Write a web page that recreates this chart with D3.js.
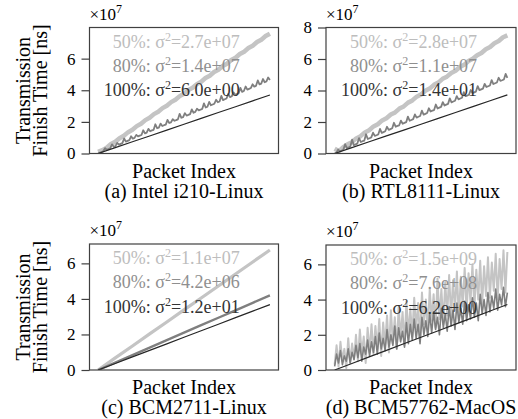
<!DOCTYPE html>
<html>
<head>
<meta charset="utf-8">
<script src="https://cdn.jsdelivr.net/npm/d3@7"></script>
<style>
  body { margin: 0; background: #fff; }
</style>
</head>
<body>
<script>
// Values (y in units of 1e7 ns)
const panelTitles = ["(a) Intel i210-Linux", "(b) RTL8111-Linux", "(c) BCM2711-Linux", "(d) BCM57762-MacOS"];
const levels = ["50%", "80%", "100%"];
const sigmaLabels = [
    ["2.7e+07", "1.4e+07", "6.0e+00"],
    ["2.8e+07", "1.1e+07", "1.4e+01"],
    ["1.1e+07", "4.2e+06", "1.2e+01"],
    ["1.5e+09", "7.6e+08", "6.2e+00"]
];
const yTicks = [[0, 2, 4, 6], [0, 2, 4, 6, 8], [0, 2, 4, 6], [0, 2, 4, 6]];
const yTops = [7.97, 8.0, 7.09, 7.1];
const PACKETS = 1000;

const a50 = [0.10, 0.21, 0.36, 0.60, 0.74, 0.97, 1.12, 1.35, 1.50, 1.73, 1.88, 2.11, 2.26, 2.49, 2.64, 2.87, 3.02, 3.25, 3.40, 3.63,
    3.78, 4.01, 4.16, 4.39, 4.54, 4.77, 4.92, 5.15, 5.30, 5.53, 5.68, 5.91, 6.06, 6.29, 6.44, 6.67, 6.82, 7.05, 7.20, 7.43, 7.58];
const a80 = [0.00, 0.05, 0.09, 0.14, 0.34, 0.23, 0.28, 0.33, 0.58, 0.42, 0.47, 0.67, 0.56, 0.61, 0.66, 0.95, 0.75, 0.80, 0.85, 1.09,
    0.94, 0.99, 1.18, 1.08, 1.13, 1.17, 1.47, 1.27, 1.32, 1.56, 1.41, 1.46, 1.50, 1.85, 1.60, 1.64, 1.89, 1.74, 1.79, 1.83,
    2.13, 1.93, 1.97, 2.17, 2.07, 2.11, 2.16, 2.51, 2.26, 2.30, 2.55, 2.40, 2.44, 2.49, 2.79, 2.58, 2.63, 2.83, 2.73, 2.77,
    2.82, 3.17, 2.91, 2.96, 3.26, 3.05, 3.10, 3.15, 3.40, 3.24, 3.29, 3.64, 3.38, 3.43, 3.48, 3.77, 3.57, 3.62, 3.87, 3.71,
    3.76, 3.81, 4.15, 3.90, 3.95, 4.24, 4.04, 4.09, 4.14, 4.38, 4.23, 4.28, 4.62, 4.37, 4.42, 4.71, 4.51, 4.56, 4.81, 4.65];
const a100 = [0, 0.37, 0.74, 1.11, 1.48, 1.85, 2.22, 2.59, 2.96, 3.33, 3.70];

const b50 = [0.30, 0.15, 0.40, 0.58, 0.72, 0.96, 1.10, 1.34, 1.48, 1.72, 1.86, 2.10, 2.24, 2.47, 2.61, 2.85, 2.99, 3.23, 3.37, 3.61,
    3.75, 3.98, 4.12, 4.36, 4.50, 4.74, 4.88, 5.11, 5.25, 5.49, 5.63, 5.87, 6.01, 6.24, 6.38, 6.62, 6.76, 7.00, 7.14, 7.38, 7.50];
const b80 = [0.00, 0.05, 0.25, 0.15, 0.19, 0.24, 0.59, 0.34, 0.39, 0.44, 0.88, 0.53, 0.58, 0.63, 0.98, 0.73, 0.78, 0.82, 1.22, 0.92,
    0.97, 1.02, 1.32, 1.12, 1.16, 1.21, 1.56, 1.31, 1.36, 1.41, 1.70, 1.50, 1.55, 1.60, 1.95, 1.70, 1.75, 1.79, 2.09, 1.89,
    1.94, 1.99, 2.34, 2.08, 2.13, 2.18, 2.48, 2.28, 2.33, 2.38, 2.72, 2.47, 2.52, 2.57, 2.87, 2.67, 2.72, 2.76, 3.11, 2.86,
    2.91, 2.96, 3.26, 3.05, 3.10, 3.15, 3.50, 3.25, 3.30, 3.35, 3.64, 3.44, 3.49, 3.54, 3.89, 3.64, 3.68, 3.73, 4.03, 3.83,
    3.88, 3.93, 4.28, 4.02, 4.07, 4.12, 4.42, 4.22, 4.27, 4.32, 4.66, 4.41, 4.46, 4.51, 4.81, 4.61, 4.65, 4.70, 5.05, 4.80];
const b100 = [0, 0.372, 0.744, 1.116, 1.488, 1.86, 2.232, 2.604, 2.976, 3.348, 3.72];

const c50 = [0, 0.68, 1.35, 2.03, 2.70, 3.38, 4.05, 4.73, 5.40, 6.08, 6.75];
const c80 = [0, 0.42, 0.84, 1.26, 1.68, 2.10, 2.52, 2.94, 3.36, 3.78, 4.20];
const c100 = [0, 0.368, 0.736, 1.104, 1.472, 1.84, 2.208, 2.576, 2.944, 3.312, 3.68];

const d50 = [0.3, 1.4, 0.2, 1.6, 0.5, 1.2, 0.1, 1.8, 0.4, 1.5,
    0.6, 2.0, 0.5, 2.3, 0.9, 1.9, 0.4, 2.4, 1.0, 2.6,
    0.9, 2.5, 1.2, 2.9, 0.8, 2.7, 1.4, 3.1, 1.0, 3.4,
    1.5, 3.0, 1.2, 3.6, 1.8, 3.3, 1.4, 3.9, 2.0, 3.5,
    1.9, 4.1, 2.3, 3.8, 1.7, 4.4, 2.6, 4.0, 2.2, 4.6,
    2.8, 4.3, 2.4, 5.2, 2.9, 4.6, 2.6, 5.0, 3.1, 5.4,
    3.0, 5.1, 3.4, 5.6, 2.9, 5.3, 3.6, 5.8, 3.3, 5.5,
    3.8, 6.0, 3.5, 5.7, 4.0, 6.2, 3.7, 5.9, 4.2, 6.4,
    4.1, 6.1, 4.5, 6.6, 4.0, 6.3, 4.6, 6.8, 4.4, 6.7];
const d80 = [0.2, 0.9, 0.4, 1.1, 0.3, 0.8, 0.5, 1.2, 0.4, 1.0,
    0.6, 1.4, 0.7, 1.5, 0.5, 1.3, 0.9, 1.7, 0.8, 1.6,
    1.0, 1.9, 0.9, 2.1, 1.2, 1.8, 1.1, 2.3, 1.3, 2.0,
    1.4, 2.5, 1.2, 2.4, 1.6, 2.2, 1.3, 2.7, 1.5, 2.6,
    1.7, 2.9, 1.8, 2.6, 1.5, 3.0, 2.0, 2.8, 1.9, 3.2,
    2.1, 3.3, 2.3, 3.0, 2.0, 3.5, 2.4, 3.2, 2.2, 3.6,
    2.5, 3.4, 2.3, 3.8, 2.7, 3.5, 2.6, 3.9, 2.8, 3.7,
    2.9, 4.1, 3.0, 3.8, 2.8, 4.3, 3.2, 4.0, 3.1, 4.4,
    3.3, 4.2, 3.5, 4.6, 3.4, 4.3, 3.7, 4.7, 3.6, 4.4];
const d100 = [0, 0.372, 0.744, 1.116, 1.488, 1.86, 2.232, 2.604, 2.976, 3.348, 3.72];

const seriesByPanel = [[a50, a80, a100], [b50, b80, b100], [c50, c80, c100], [d50, d80, d100]];

// layout: plot boxes [left, top, right, bottom] in pixels
const boxes = [[89.5, 27.5, 278.5, 153.5], [326, 27.5, 516, 153.5], [89.5, 244, 278.5, 370], [326, 245, 516, 370]];
const lineColors = ["#c4c4c4", "#7f7f7f", "#262626"];
const lineWidths = [[4.5, 1.8, 1.2], [4.5, 1.8, 1.2], [3.2, 2.4, 1.2], [2, 1.6, 1.2]];
const textColors = ["#bdbdbd", "#8f8f8f", "#333333"];
const serif = "'Liberation Serif', 'Times New Roman', serif";

const svg = d3.select("body").append("svg")
    .attr("width", 518)
    .attr("height", 419)
    .attr("font-family", serif);

boxes.forEach((b, p) => {
    const w = b[2] - b[0], h = b[3] - b[1];
    const g = svg.append("g").attr("transform", `translate(${b[0]},${b[1]})`);

    const x = d3.scaleLinear().domain([-0.05 * PACKETS, 1.05 * PACKETS]).range([0, w]);
    const y = d3.scaleLinear().domain([0, yTops[p]]).range([h, 0]);

    g.append("clipPath").attr("id", "clip" + p)
        .append("rect").attr("width", w).attr("height", h);

    // series, drawn 50% then 80% then 100%
    seriesByPanel[p].forEach((vals, k) => {
        const n = vals.length;
        const line = d3.line()
            .x((d, i) => x(i * PACKETS / (n - 1)))
            .y(d => y(d));
        g.append("path")
            .datum(vals)
            .attr("clip-path", `url(#clip${p})`)
            .attr("fill", "none")
            .attr("stroke", lineColors[k])
            .attr("stroke-width", lineWidths[p][k])
            .attr("stroke-linejoin", "round")
            .attr("d", line);
    });

    // annotations
    levels.forEach((lv, k) => {
        const t = g.append("text")
            .attr("x", w * 0.795)
            .attr("y", 20 + k * 24.3)
            .attr("text-anchor", "end")
            .attr("font-family", serif)
            .attr("fill", textColors[k])
            .attr("font-size", 18);
        t.append("tspan").text(lv + ": \u03c3");
        t.append("tspan").attr("dy", -7).attr("font-size", 12).text("2");
        t.append("tspan").attr("dy", 7).text("=" + sigmaLabels[p][k]);
    });

    // frame
    g.append("rect")
        .attr("width", w).attr("height", h)
        .attr("fill", "none")
        .attr("stroke", "#404040")
        .attr("stroke-width", 1.2);

    // y axis
    const ya = g.append("g")
        .call(d3.axisLeft(y).tickValues(yTicks[p]).tickSize(8).tickPadding(6).tickFormat(d3.format("d")))
        .attr("font-family", serif)
        .attr("font-size", 17);
    ya.select(".domain").remove();
    ya.selectAll(".tick line").attr("stroke", "#404040").attr("stroke-width", 1.2);
    ya.selectAll(".tick text").attr("fill", "#000");

    // offset label x10^7
    const off = g.append("text").attr("x", 0).attr("y", -8)
        .attr("font-family", serif).attr("font-size", 17);
    off.append("tspan").text("\u00d710");
    off.append("tspan").attr("dy", -7).attr("font-size", 12).text("7");

    // x label and caption
    g.append("text")
        .attr("x", w / 2).attr("y", h + 24)
        .attr("text-anchor", "middle")
        .attr("font-family", serif)
        .attr("font-size", 20)
        .text("Packet Index");
    g.append("text")
        .attr("x", w / 2).attr("y", h + 44)
        .attr("text-anchor", "middle")
        .attr("font-family", serif)
        .attr("font-size", 20)
        .text(panelTitles[p]);

    // y label on left column
    if (p % 2 === 0) {
        const yl = g.append("text")
            .attr("transform", `translate(${-60},${h / 2}) rotate(-90)`)
            .attr("text-anchor", "middle")
            .attr("font-family", serif)
            .attr("font-size", 20);
        yl.append("tspan").attr("x", 0).attr("y", 0).text("Transmission");
        yl.append("tspan").attr("x", 0).attr("y", 17).text("Finish Time [ns]");
    }
});
</script>
</body>
</html>
